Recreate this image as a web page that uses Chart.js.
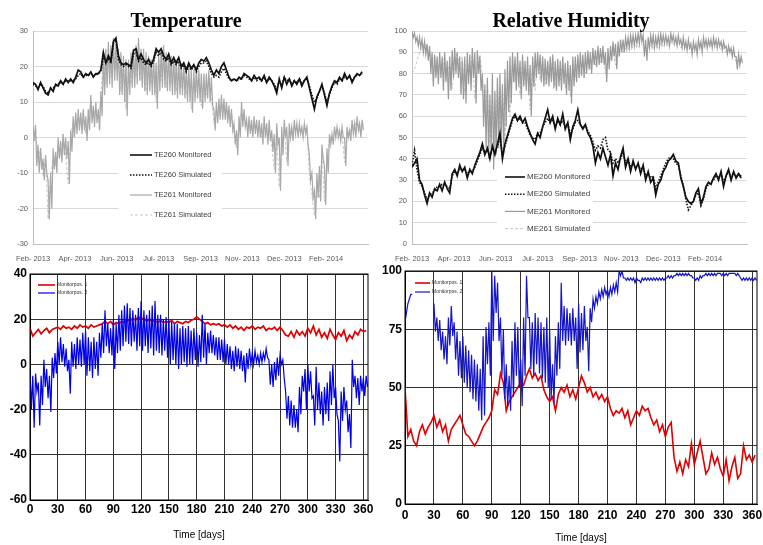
<!DOCTYPE html>
<html lang="en">
<head>
<meta charset="UTF-8">
<title>Temperature and Relative Humidity</title>
<script src="https://cdn.jsdelivr.net/npm/chart.js"></script>
<style>
    body { margin: 0; background: #fff; }
    #wrap { position: relative; width: 763px; height: 545px; overflow: hidden; }
    .panel { position: absolute; }
    .title {
        position: absolute; top: 9px; line-height: 20px; white-space: nowrap;
        font: bold 20px 'Liberation Serif', 'Times New Roman', serif;
        transform: translateX(-50%);
    }
</style>
</head>
<body>
<div id="wrap">
    <div class="panel" style="left:0;top:0;width:380px;height:262px"><canvas id="tl"></canvas></div>
    <div class="panel" style="left:380px;top:0;width:383px;height:262px"><canvas id="tr"></canvas></div>
    <div class="panel" style="left:0;top:262px;width:380px;height:283px"><canvas id="bl"></canvas></div>
    <div class="panel" style="left:380px;top:262px;width:383px;height:283px"><canvas id="br"></canvas></div>
    <div class="title" style="left:186px">Temperature</div>
    <div class="title" style="left:571px">Relative Humidity</div>
</div>

<script>
    // smooth series: one value every 3 days
    // noisy series: high / low of each 3-day window, i.e. one value every 1.5 days
    const STEP = 3;
    const HALF_STEP = 1.5;

    const topTickDays = [0, 50, 100, 150, 200, 250, 300, 350, 400];
    const topTickLabels = ['Feb- 2013', 'Apr- 2013', 'Jun- 2013', 'Jul- 2013', 'Sep- 2013', 'Nov- 2013', 'Dec- 2013', 'Feb- 2014', ''];
    const dayTicks = [0, 30, 60, 90, 120, 150, 180, 210, 240, 270, 300, 330, 360];

    // --- Temperature (measured / simulated) ---
    const te260Mon = [
        15.5, 15, 13.5, 15.5, 14, 12.5,
        12, 14, 13, 15, 14.5, 16, 15,
        16.5, 15.5, 16.5, 15.5, 17,
        19, 18.5, 17, 18, 17.5, 18.5, 17, 18, 18,
        19, 24, 21, 23, 21.5, 27, 28,
        23, 21, 20.5, 21, 20.5, 20, 24.5,
        25, 22, 23.5, 22, 21, 22, 20.5, 22, 25, 24,
        25, 23, 22, 23.5, 21, 22.5, 21, 22.5, 20, 21,
        19, 21, 19.5, 20.5, 19, 21, 22, 21.5, 22.5, 21,
        19, 17.5, 19, 18, 20, 21, 19, 17, 16, 16.5,
        16, 17, 16.5, 18, 17.5, 17, 16, 17.5, 16.5, 17,
        16, 17.5, 15.5, 17, 16, 14.5, 12.5, 16.5, 14, 17,
        15, 16.5, 14.5, 16, 15, 16.5, 14.5, 16, 17, 14,
        11, 8, 11.5, 13, 15, 12, 9, 12.5, 14.5, 16,
        15.5, 17, 16, 18, 16.5, 17.5, 15.5, 17, 18, 17.5, 18.5
    ];
    const te260Sim = [
        15, 14.5, 14, 15, 14.5, 13,
        12.5, 13.5, 14, 14.5, 15, 15.5, 15,
        16, 16, 16, 16, 16.5,
        17.5, 18, 17, 17.5, 17.5, 18, 17.5, 17.5, 18,
        18.5, 23, 21, 22, 21, 26.5, 27,
        22, 20.5, 20, 20.5, 20, 19.5, 23.5,
        24, 21.5, 22.5, 21, 20.5, 21, 20, 21.5, 24, 23,
        24, 22, 21.5, 22.5, 20.5, 21.5, 20.5, 21.5, 19.5, 20.5,
        18.5, 20, 19, 20, 18.5, 20, 21, 21, 21.5, 20,
        18, 17, 17.5, 17, 18.5, 19.5, 18, 16.5, 16, 16.5,
        16, 16.5, 16.5, 17.5, 17, 16.5, 16, 17, 16, 16.5,
        16, 17, 15.5, 16.5, 16, 15, 13.5, 16, 14.5, 17,
        16, 16.5, 15, 16, 15.5, 16.5, 15.5, 16, 16.5, 14.5,
        12, 10, 11, 13, 14.5, 12.5, 10, 12, 14, 15.5,
        15, 16.5, 16, 17, 16.5, 17, 16, 17, 17.5, 17.5, 18
    ];
    const te261Mon = [
        3, -1, 3.5, -8, -2, -10, -3, -9, -6, -12, -5, -10, -12, -23, -10, -20, -3, -9, -4, -10,
        0, -6, -1, -7, 1, -5, 0, -6, -1, -13, 2, -4, 6, 0, 7, 1, 8, 2, 7, 1,
        8, 2, 6, -1, 8, 2, 12, 4, 9, 3, 10, 4, 8, 2, 13, 6, 24, 12, 25, 14,
        27, 15, 26, 14, 28, 16, 26, 16, 25, 12, 24, 12, 23, 10, 22, 6, 22, 12, 24, 14,
        25, 14, 26, 15, 28, 16, 25, 14, 25, 13, 24, 12, 23, 13, 22, 12, 23, 12, 21, 8,
        24, 13, 25, 14, 26, 14, 24, 13, 24, 13, 23, 12, 23, 12, 22, 11, 22, 12, 21, 12,
        21, 11, 20, 10, 20, 10, 19, 7, 19, 10, 20, 11, 19, 10, 18, 8, 18, 10, 18, 11,
        19, 10, 17, 9, 8, 2, 10, 4, 11, 5, 12, 5, 11, 5, 10, 4, 9, 3, 8, 2,
        4, -2, 2, -5, 6, 0, 10, 3, 8, 3, 5, 0, 6, 1, 5, 0, 6, 1, 5, 0,
        5, 0, 4, -2, 6, 0, 4, -2, 5, -1, 2, -4, 1, -10, 4, -2, 0, -15, 3, -5,
        5, 0, 3, -8, 4, 0, 3, -1, 5, 1, 4, 0, 4, 1, 3, 0, 4, 1, 3, -2,
        -5, -12, -10, -17, -15, -23, -10, -17, -8, -18, -2, -6, -8, -19, -3, -10, 1, -2, 1, -2,
        3, 0, 3, 0, 2, -1, 3, 0, 0, -8, 3, 0, 2, -1, 5, 1, 4, 0, 6, 2, 4, 0, 5, 2
    ];
    const te261Sim = [
        0, 3, -7, -3, -11, -5, -23, -11, -6, -8,
        -2, -5, 1, -5, -13, 0, 5, 3, 6, 4,
        7, 1, 5, 10, 6, 8, 5, 11, 23, 15,
        25, 17, 26, 19, 24, 13, 21, 8, 19, 15,
        23, 17, 27, 16, 23, 13, 21, 15, 20, 10,
        22, 16, 24, 14, 22, 15, 21, 13, 20, 14,
        19, 12, 18, 8, 17, 13, 18, 9, 16, 12,
        17, 11, 4, 8, 6, 10, 7, 9, 5, 7,
        1, -3, 4, 7, 5, 3, 4, 2, 4, 3,
        3, 0, 4, 1, 2, -2, -9, 1, -14, -3,
        3, -7, 1, 1, 3, 2, 2, 1, 2, 3,
        -11, -16, -22, -13, -17, -4, -18, -8, 0, 0,
        1, 2, 2, 1, -7, 2, 1, 4, 3, 5, 2, 4
    ];

    // --- Relative humidity (measured / simulated) ---
    const me260Mon = [
        36, 38, 40, 30, 28, 23, 19, 24, 22, 26,
        25, 28, 25, 29, 26, 24, 33, 35, 32, 37,
        34, 36, 31, 35, 33, 37, 40, 43, 47, 42,
        45, 40, 46, 42, 47, 52, 40, 47, 51, 55,
        59, 61, 58, 60, 57, 59, 55, 52, 49, 47,
        52, 50, 55, 59, 63, 57, 60, 54, 59, 56,
        61, 54, 57, 49, 55, 58, 63, 56, 54, 56,
        52, 50, 46, 38, 43, 40, 45, 41, 37, 42,
        32, 38, 35, 41, 45, 36, 40, 34, 39, 35,
        38, 33, 37, 30, 34, 29, 31, 23, 28, 30,
        34, 36, 39, 40, 42, 39, 38, 31, 27, 22,
        20, 19, 20, 24, 26, 19, 22, 27, 29, 28,
        31, 33, 30, 34, 27, 32, 35, 30, 34, 31, 33, 31
    ];
    const me260Sim = [
        37, 44, 35, 29, 27, 24, 21, 23, 24, 25,
        27, 27, 28, 28, 27, 26, 32, 34, 33, 35,
        35, 35, 33, 34, 34, 36, 39, 42, 45, 43,
        44, 42, 45, 43, 46, 50, 42, 46, 50, 54,
        58, 60, 58, 59, 57, 57, 54, 51, 50, 49,
        52, 52, 55, 57, 59, 57, 58, 55, 57, 56,
        58, 55, 56, 52, 54, 57, 58, 56, 55, 56,
        53, 51, 48, 44, 46, 45, 49, 50, 44, 43,
        38, 40, 38, 40, 43, 38, 40, 36, 38, 36,
        37, 35, 36, 32, 33, 31, 32, 26, 29, 32,
        35, 38, 40, 41, 40, 38, 37, 32, 27, 21,
        16, 18, 20, 23, 24, 18, 21, 26, 28, 29,
        30, 32, 31, 33, 29, 32, 34, 31, 33, 32, 33, 32
    ];
    const me261Mon = [
        100, 97, 99, 95, 97, 93, 97, 92, 96, 90, 95, 89, 94, 86, 93, 80, 90, 74, 89, 78,
        88, 75, 90, 78, 88, 72, 90, 76, 86, 68, 88, 72, 91, 78, 92, 80, 90, 78, 88, 70,
        86, 68, 88, 66, 90, 75, 89, 72, 92, 78, 90, 66, 91, 80, 88, 72, 80, 55, 75, 45,
        78, 40, 70, 44, 80, 35, 72, 42, 78, 45, 80, 48, 75, 42, 82, 55, 86, 62, 88, 66,
        90, 76, 88, 72, 90, 74, 86, 68, 89, 74, 86, 72, 88, 70, 84, 60, 88, 74, 90, 78,
        90, 80, 89, 76, 88, 74, 87, 75, 86, 74, 88, 76, 89, 73, 86, 72, 87, 74, 86, 72,
        88, 75, 85, 70, 86, 72, 84, 66, 88, 74, 88, 76, 89, 78, 90, 79, 89, 78, 90, 80,
        91, 82, 90, 80, 92, 84, 91, 83, 93, 84, 92, 85, 93, 84, 90, 76, 92, 82, 93, 86,
        95, 88, 94, 82, 95, 88, 96, 90, 96, 90, 97, 92, 97, 92, 98, 93, 98, 93, 98, 94,
        99, 94, 100, 95, 98, 88, 96, 86, 97, 92, 98, 93, 98, 92, 97, 93, 98, 93, 99, 94,
        98, 94, 98, 94, 97, 93, 99, 95, 98, 94, 97, 93, 98, 94, 96, 92, 97, 92, 95, 91,
        96, 92, 94, 89, 95, 91, 94, 89, 96, 92, 95, 90, 97, 93, 96, 92, 96, 93, 96, 92,
        97, 93, 96, 92, 96, 93, 95, 91, 95, 92, 93, 89, 93, 90, 92, 88, 92, 88, 88, 82, 89, 84, 88, 85
    ];
    const me261Sim = [
        80, 82, 86, 90, 93, 94, 92, 91, 86, 88,
        80, 86, 82, 88, 79, 85, 73, 83, 90, 81,
        88, 70, 85, 80, 88, 68, 84, 89, 79, 60,
        74, 47, 70, 42, 76, 50, 72, 48, 78, 60,
        86, 76, 85, 70, 87, 75, 83, 63, 86, 72,
        88, 77, 86, 75, 85, 78, 87, 74, 84, 77,
        86, 73, 83, 69, 85, 78, 87, 80, 84, 80,
        86, 82, 88, 84, 89, 85, 90, 80, 88, 87,
        91, 84, 90, 91, 90, 92, 91, 93, 92, 93,
        92, 94, 93, 90, 92, 93, 92, 93, 92, 94,
        93, 94, 93, 95, 94, 93, 95, 92, 94, 92,
        93, 91, 92, 91, 93, 92, 94, 92, 94, 93,
        94, 92, 93, 91, 92, 90, 91, 89, 90, 85, 87, 86
    ];

    // --- Model results, Monitorpos. 1 / 2 ---
    const tempPos1 = [
        16, 12.5, 14, 15.5, 13.5, 15, 16, 14, 15.5, 16,
        16.5, 15.5, 17, 16, 16.5, 15.5, 17, 16, 17.5, 16.5,
        17, 16, 17.5, 16.5, 17, 17.5, 18, 19, 18, 19,
        17.5, 18.5, 18, 19, 18.5, 20, 19, 20.5, 19.5, 21,
        20, 20.5, 19, 20, 19, 19.5, 18.5, 19.5, 18.5, 19,
        18.5, 19.5, 18, 19, 18.5, 18, 19, 18.5, 19.5, 20,
        21, 20, 19, 18, 18.5, 17.5, 18, 17.5, 18, 17,
        17.5, 16.5, 17.5, 16, 17, 15.5, 16.5, 15, 16.5, 16,
        17, 15.5, 16.5, 16, 17, 15, 16, 15.5, 16.5, 15,
        16.5, 15, 13, 12.5, 14.5, 12, 15, 13, 14.5, 12.5,
        16, 14, 17, 13, 15.5, 12, 14, 11.5, 15.5, 13,
        11, 14, 12.5, 15, 10.5, 13, 11.5, 14.5, 13, 15.5,
        14.5, 15
    ];
    const tempPos2 = [
        -2, -20, -5, -28, -4, -12, -8, -27, -5, -18, 2, -10, -2, -15, -5, -21, 3, -6, 5, -4,
        10, 0, 12, 1, 9, -1, 7, -3, 2, -13, 10, -1, 9, -2, 12, 0, 11, -1, 14, 0,
        15, -5, 12, -3, 10, -6, 12, -2, 10, -5, 14, 3, 18, 5, 24, 8, 18, 5, 16, 4,
        20, -2, 18, 5, 22, 6, 24, 8, 26, 10, 27, 9, 25, 8, 24, 10, 22, 6, 25, 8,
        28, 6, 24, 8, 22, 5, 24, 7, 26, 4, 28, 6, 22, 5, 22, 4, 20, 6, 21, 3,
        20, 0, 19, 2, 18, 0, 18, -2, 16, 0, 17, 1, 16, -1, 17, 0, 15, 0, 16, 2,
        14, -1, 13, 1, 22, 3, 18, 0, 14, 5, 15, 5, 13, 4, 12, 2, 12, 2, 11, 1,
        11, 0, 9, 0, 8, -2, 6, -3, 8, -1, 7, -2, 6, -3, 4, -8, 5, -2, 7, 0,
        5, 0, 6, 1, 4, 0, 5, 1, 5, 2, 7, 3, 2, -9, 0, -10, 1, -7, 3, -5,
        4, 0, 2, -6, -12, -24, -14, -27, -16, -28, -18, -28, -20, -30, -10, -22, -5, -12, -2, -20,
        0, -12, -3, -15, -14, -27, -1, -20, -8, -22, -12, -27, -10, -22, -8, -25, -3, -18, 0, -15,
        -10, -22, -25, -43, -12, -25, -10, -20, -16, -30, -22, -37, 2, -10, -5, -15, -6, -18, -5, -12,
        -6, -14, -5, -10
    ];
    const rhPos1 = [
        50, 29, 32, 27, 25, 31, 34, 30, 33, 35,
        38, 33, 36, 31, 34, 27, 32, 34, 36, 38,
        34, 30, 29, 27, 25, 27, 30, 33, 35, 37,
        40, 49, 47, 56, 52, 40, 44, 46, 48, 50,
        52, 51, 55, 58, 54, 56, 53, 55, 49, 46,
        44, 46, 40, 47, 50, 48, 51, 46, 49, 45,
        50, 55, 52, 48, 50, 46, 48, 45, 47, 44,
        46, 41, 38, 40, 39, 41, 37, 40, 34, 37,
        40, 38, 42, 40, 41, 37, 34, 36, 31, 34,
        29, 33, 35, 20, 14, 18, 13, 19, 16, 26,
        17, 22, 27, 20, 13, 15, 22, 17, 20, 15,
        12, 19, 10, 16, 20, 11, 13, 25, 19, 21,
        18, 21
    ];
    const rhPos2 = [
        78, 82, 86, 88, 90, 90, null, null, null, null, null, null, null, null, null, null, null, null, null, null,
        86, 74, 80, 70, 79, 66, 74, 62, 72, 60, 80, 68, 85, 72, 78, 62, 74, 55, 70, 54,
        72, 52, 68, 50, 66, 48, 64, 45, 62, 44, 60, 40, 58, 36, 72, 38, 76, 60, 78, 55,
        100, 70, 98, 82, 95, 70, 80, 55, 75, 45, 60, 42, 55, 40, 70, 46, 78, 55, 76, 50,
        62, 42, 80, 55, 98, 80, 80, 58, 78, 55, 82, 60, 80, 56, 78, 54, 76, 52, 80, 50,
        75, 45, 60, 43, 72, 55, 78, 58, 95, 70, 85, 68, 84, 70, 82, 68, 84, 70, 80, 58,
        86, 65, 82, 66, 85, 70, 76, 57, 84, 78, 88, 84, 89, 86, 91, 88, 92, 89, 93, 90,
        92, 89, 93, 90, 94, 91, 95, 91, 100, 98, 100, 97, 97, 96, 97, 96, 97, 96, 97, 95,
        97, 96, 96, 95, 97, 96, 97, 96, 97, 96, 97, 96, 97, 96, 97, 96, 97, 96, 97, 96,
        97, 97, 98, 97, 98, 97, 98, 98, 99, 98, 99, 98, 99, 98, 99, 98, 99, 98, 98, 97,
        97, 96, 97, 96, 98, 97, 98, 98, 99, 98, 99, 98, 99, 98, 99, 98, 99, 99, 99, 98,
        99, 98, 99, 98, 99, 99, 99, 99, 99, 98, 99, 98, 97, 96, 97, 96, 97, 96, 97, 96,
        97, 96, 97, 96
    ];

    const pts = (arr, step) => arr.map((v, i) => ({ x: i * step, y: v }));

    // legend drawn inside the plot, line sample + label, from the datasets
    const legendBox = {
        id: 'legendBox',
        beforeDatasetsDraw(chart, args, o) {
            if (!o.box) return;
            const ctx = chart.ctx;
            ctx.save();
            ctx.fillStyle = '#fff';
            ctx.fillRect(o.box[0], o.box[1], o.box[2], o.box[3]);
            ctx.restore();
        },
        afterDatasetsDraw(chart, args, o) {
            if (!o.font) return;
            const ctx = chart.ctx;
            ctx.save();
            chart.data.datasets.forEach((ds, i) => {
                const y = o.y + i * o.gap;
                ctx.beginPath();
                ctx.strokeStyle = ds.borderColor;
                ctx.lineWidth = Math.min(ds.borderWidth, 1.6);
                ctx.setLineDash(ds.borderDash || []);
                ctx.moveTo(o.x, y);
                ctx.lineTo(o.x + o.len, y);
                ctx.stroke();
                ctx.setLineDash([]);
                ctx.font = o.font;
                ctx.fillStyle = o.color;
                ctx.textAlign = 'left';
                ctx.textBaseline = 'middle';
                ctx.fillText(ds.label, o.x + o.len + 2, y);
            });
            ctx.restore();
        }
    };

    const frame = {
        id: 'frame',
        afterDatasetsDraw(chart, args, o) {
            if (!o.color) return;
            const a = chart.chartArea, ctx = chart.ctx;
            ctx.save();
            ctx.strokeStyle = o.color;
            ctx.lineWidth = 1;
            ctx.strokeRect(a.left, a.top, a.right - a.left, a.bottom - a.top);
            ctx.restore();
        }
    };

    const fixWidth = w => s => { s.width = w; s.paddingTop = 0; s.paddingBottom = 0; };
    const fixHeight = h => s => { s.height = h; s.paddingLeft = 0; s.paddingRight = 0; };

    const smallFont = { family: 'Liberation Sans', size: 7.5 };
    const boldFont = { family: 'Liberation Sans', size: 12, weight: 'bold' };

    function topOptions(yMin, yMax, yWidth, padRight, legend) {
        return {
            responsive: true,
            maintainAspectRatio: false,
            animation: false,
            layout: { padding: { top: 31, right: padRight, left: 0, bottom: 0 } },
            elements: { point: { radius: 0 }, line: { tension: 0 } },
            plugins: { legend: { display: false }, tooltip: { enabled: false }, legendBox: legend },
            scales: {
                x: {
                    type: 'linear', min: 0, max: 400,
                    afterBuildTicks: s => { s.ticks = topTickDays.map(v => ({ value: v })); },
                    ticks: {
                        autoSkip: false, maxRotation: 0, padding: 2, color: '#595959', font: smallFont,
                        callback: v => topTickLabels[topTickDays.indexOf(v)]
                    },
                    grid: { display: false },
                    border: { color: '#bfbfbf' },
                    afterFit: fixHeight(18)
                },
                y: {
                    min: yMin, max: yMax,
                    ticks: { stepSize: 10, padding: 5, color: '#595959', font: smallFont },
                    grid: { color: '#d9d9d9', drawTicks: false },
                    border: { color: '#bfbfbf' },
                    afterFit: fixWidth(yWidth)
                }
            }
        };
    }

    function bottomOptions(yMin, yMax, yStep, yWidth, padTop, padRight, xHeight, tickPad, titlePad, legend) {
        return {
            responsive: true,
            maintainAspectRatio: false,
            animation: false,
            layout: { padding: { top: padTop, right: padRight, left: 0, bottom: 0 } },
            elements: { point: { radius: 0 }, line: { tension: 0 } },
            plugins: { legend: { display: false }, tooltip: { enabled: false }, legendBox: legend, frame: { color: '#000' } },
            scales: {
                x: {
                    type: 'linear', min: 0, max: 365,
                    afterBuildTicks: s => { s.ticks = dayTicks.map(v => ({ value: v })); },
                    ticks: { autoSkip: false, maxRotation: 0, padding: tickPad, color: '#000', font: boldFont },
                    grid: { color: '#333', drawTicks: false },
                    border: { color: '#000' },
                    title: {
                        display: true, text: 'Time [days]', color: '#000',
                        font: { family: 'Liberation Sans', size: 10 },
                        padding: { top: 0, bottom: titlePad }
                    },
                    afterFit: fixHeight(xHeight)
                },
                y: {
                    min: yMin, max: yMax,
                    ticks: { stepSize: yStep, padding: 3, color: '#000', font: boldFont },
                    grid: { color: '#333', drawTicks: false },
                    border: { color: '#000' },
                    afterFit: fixWidth(yWidth)
                }
            }
        };
    }

    function line(label, data, step, color, width, dash, order) {
        return {
            label, data: pts(data, step), borderColor: color, borderWidth: width,
            borderDash: dash || [], fill: false, order: order || 0
        };
    }

    new Chart(document.getElementById('tl'), {
        type: 'line',
        data: {
            datasets: [
                line('TE260 Monitored', te260Mon, STEP, '#111', 1.7),
                line('TE260 Simulated', te260Sim, STEP, '#111', 1.6, [1.5, 1.5]),
                line('TE261 Monitored', te261Mon, HALF_STEP, '#a8a8a8', 1.2),
                line('TE261 Simulated', te261Sim, STEP, '#c8c8c8', 1, [3, 2])
            ]
        },
        options: topOptions(-30, 30, 33, 12, {
            box: [118, 143, 104, 83], x: 130, y: 155, gap: 20, len: 22,
            font: '7.5px "Liberation Sans"', color: '#404040'
        }),
        plugins: [legendBox, frame]
    });

    new Chart(document.getElementById('tr'), {
        type: 'line',
        data: {
            datasets: [
                line('ME260 Monitored', me260Mon, STEP, '#111', 1.7),
                line('ME260 Simulated', me260Sim, STEP, '#111', 1.6, [1.5, 1.5]),
                line('ME261 Monitored', me261Mon, HALF_STEP, '#9a9a9a', 1.2),
                line('ME261 Simulated', me261Sim, STEP, '#c8c8c8', 1, [3, 2])
            ]
        },
        options: topOptions(0, 100, 32, 16, {
            box: [117, 166, 96, 72], x: 125, y: 177, gap: 17.2, len: 20,
            font: '8px "Liberation Sans"', color: '#404040'
        }),
        plugins: [legendBox, frame]
    });

    // blue drawn over red (lower order is drawn on top)
    new Chart(document.getElementById('bl'), {
        type: 'line',
        data: {
            datasets: [
                line('Monitorpos. 1', tempPos1, STEP, '#e00000', 1.7, null, 1),
                line('Monitorpos. 2', tempPos2, HALF_STEP, '#0000e6', 1.2, null, 0)
            ]
        },
        options: bottomOptions(-60, 40, 20, 30, 12, 12, 45, 2, 4, {
            x: 38, y: 23, gap: 8, len: 17, font: '5px "Liberation Sans"', color: '#333'
        }),
        plugins: [legendBox, frame]
    });

    new Chart(document.getElementById('br'), {
        type: 'line',
        data: {
            datasets: [
                line('Monitorpos. 1', rhPos1, STEP, '#e00000', 1.6, null, 1),
                line('Monitorpos. 2', rhPos2, HALF_STEP, '#1414c8', 1.2, null, 0)
            ]
        },
        options: bottomOptions(0, 100, 25, 25, 9, 6, 41, 4, 1, {
            x: 35, y: 21, gap: 9, len: 15, font: '5px "Liberation Sans"', color: '#333'
        }),
        plugins: [legendBox, frame]
    });
</script>
</body>
</html>
